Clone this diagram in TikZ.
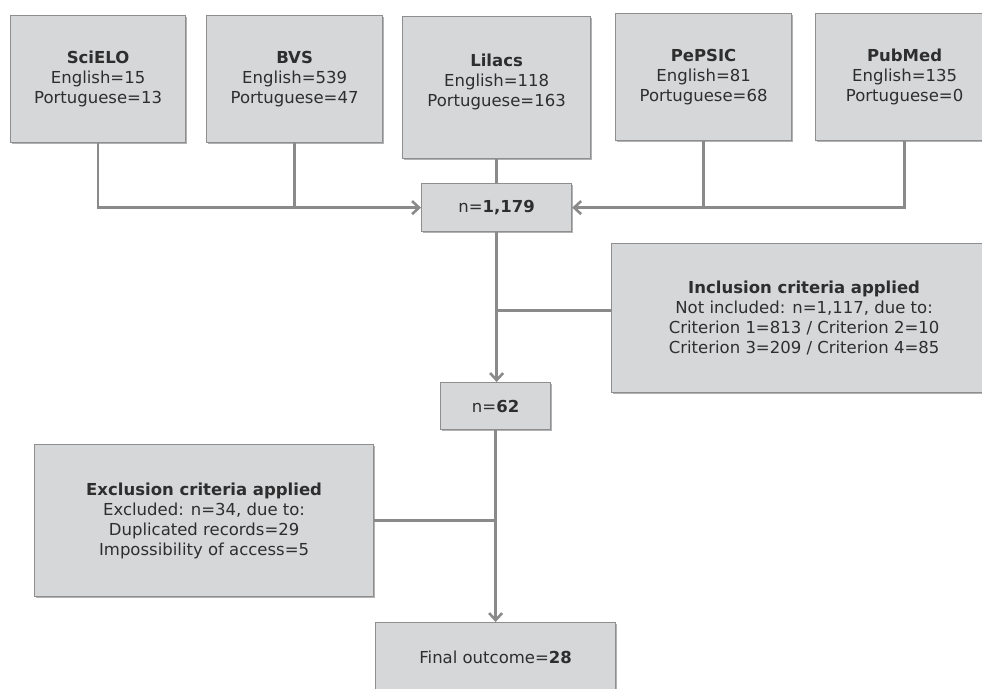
\documentclass[tikz,border=0pt]{standalone}
\usepackage{fontspec}
\setmainfont{DejaVu Sans}
\usetikzlibrary{arrows.meta,shadows}
\definecolor{boxfill}{HTML}{D6D7D9}
\definecolor{boxline}{HTML}{8E8E8E}
\definecolor{connc}{HTML}{8A8A8A}
\definecolor{txt}{HTML}{2E2E2E}
\begin{document}
\begin{tikzpicture}[x=1pt,y=-1pt,
  box/.style={draw=boxline, line width=1.2pt, fill=boxfill, text=txt, align=center,
    font=\fontsize{16.5}{20}\selectfont, inner sep=0pt, anchor=north west,
    drop shadow={shadow xshift=1.2pt, shadow yshift=-1.5pt, fill=black, opacity=0.3}},
  conn/.style={draw=connc, line width=2.6pt},
  arr/.style={conn, -{Straight Barb[length=7pt,width=13pt,line width=2.6pt]}}]
\useasboundingbox (0,0) rectangle (982,688);
\clip (0,0) rectangle (982,688);
\node[box, minimum width=175pt, minimum height=127pt] (sci) at (10,15)
  {\textbf{SciELO}\\English=15\\Portuguese=13};
\node[box, minimum width=176pt, minimum height=127pt] (bvs) at (206,15)
  {\textbf{BVS}\\English=539\\Portuguese=47};
\node[box, minimum width=188pt, minimum height=142pt] (lil) at (402,16)
  {\textbf{Lilacs}\\English=118\\Portuguese=163\\[-6pt]};
\node[box, minimum width=176pt, minimum height=127pt] (pep) at (615,13)
  {\textbf{PePSIC}\\English=81\\Portuguese=68};
\node[box, minimum width=178pt, minimum height=127pt] (pub) at (815,13)
  {\textbf{PubMed}\\English=135\\Portuguese=0};
\node[box, minimum width=150pt, minimum height=48pt] (n1) at (421,183)
  {n=\textbf{1,179}};
\node[box, minimum width=385pt, minimum height=149pt] (inc) at (611,243)
  {\textbf{Inclusion criteria applied}\\Not included: n=1,117, due to:\\Criterion 1=813 / Criterion 2=10\\Criterion 3=209 / Criterion 4=85};
\node[box, minimum width=110pt, minimum height=47pt] (n62) at (440,382)
  {n=\textbf{62}};
\node[box, minimum width=339pt, minimum height=152pt] (exc) at (34,444)
  {\textbf{Exclusion criteria applied}\\Excluded: n=34, due to:\\Duplicated records=29\\Impossibility of access=5};
\node[box, minimum width=240pt, minimum height=70pt] (fin) at (375,622)
  {Final outcome=\textbf{28}};
% connectors
\draw[arr] (sci.south) |- (n1.west);
\draw[conn] (bvs.south) -- (bvs.south |- n1.west);
\draw[conn] (lil.south) -- (lil.south |- n1.north);
\draw[arr] (pub.south) |- (n1.east);
\draw[conn] (pep.south) -- (pep.south |- n1.east);
\draw[arr] (n1.south) -- (n1.south |- n62.north);
\draw[conn] ([yshift=7.5pt]inc.west) -- ([yshift=7.5pt]inc.west -| n1.south);
\draw[arr] (n62.south) -- (n62.south |- fin.north);
\draw[conn] (exc.east) -- (exc.east -| n62.south);
\end{tikzpicture}
\end{document}
